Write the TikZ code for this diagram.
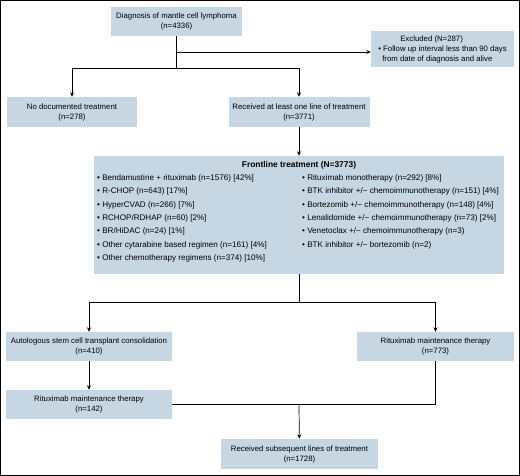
\documentclass[tikz,border=0pt]{standalone}
\usepackage{fontspec}
\setmainfont{Liberation Sans}
\usetikzlibrary{
    arrows.meta,
    positioning,
    calc
}
\definecolor{boxcol}{HTML}{C6D6E3}
\definecolor{framecol}{HTML}{000000}

\begin{document}
\begin{tikzpicture}[
    x=1pt, y=-1pt,
    >=Stealth,
    font=\fontsize{7.8}{10}\selectfont,
    fbox/.style={
        fill=boxcol, inner sep=0pt,
        minimum height=29pt, align=center
    },
    flist/.style={
        anchor=north west, inner sep=0pt, align=left,
        font=\fontsize{8.1}{13.3}\selectfont
    },
    arr/.style={->, >={Stealth[length=4.5pt, width=4pt]}, line width=0.7pt},
    lin/.style={line width=0.7pt},
]

% ── Frame ──
\useasboundingbox (0,0) rectangle (520,476);
\draw[framecol, line width=0.9pt] (0.5,0.5) rectangle (519,475);

% ── Boxes (top to bottom) ──
\node[fbox, minimum width=131pt] (diag) at (176.5,21.5) {
    Diagnosis of mantle cell lymphoma\\(n=4336)
};

\node[fbox, minimum width=143pt, minimum height=36pt, align=left] (excl) at (442.5,49) {
    \hspace*{22pt}Excluded (N=287)\\
    • Follow up interval less than 90 days\\
    \hspace*{4pt}from date of diagnosis and alive
};

\node[fbox, minimum width=130pt, minimum height=30pt] (nodoc) at (72,112) {
    No documented treatment\\(n=278)
};
\node[fbox, minimum width=141pt, minimum height=30pt] (recv) at (299,112) {
    Received at least one line of treatment\\(n=3771)
};

% --- Frontline treatment block ---
\node[fbox, minimum width=410pt, minimum height=118pt] (front) at (299,215) {};
\node[font=\fontsize{8.4}{10}\selectfont\bfseries, anchor=base] (ftitle) at (299,168)
    {Frontline treatment (N=3773)};

\node[flist] (fleft) at (97,174.5) {
    • Bendamustine + rituximab (n=1576) [42\%]\\
    • R-CHOP (n=643) [17\%]\\
    • HyperCVAD (n=266) [7\%]\\
    • RCHOP/RDHAP (n=60) [2\%]\\
    • BR/HiDAC (n=24) [1\%]\\
    • Other cytarabine based regimen (n=161) [4\%]\\
    • Other chemotherapy regimens (n=374) [10\%]
};
\node[flist] (fright) at (302,174.5) {
    • Rituximab monotherapy (n=292) [8\%]\\
    • BTK inhibitor +/− chemoimmunotherapy (n=151) [4\%]\\
    • Bortezomib +/− chemoimmunotherapy (n=148) [4\%]\\
    • Lenalidomide +/− chemoimmunotherapy (n=73) [2\%]\\
    • Venetoclax +/− chemoimmunotherapy (n=3)\\
    • BTK inhibitor +/− bortezomib (n=2)
};

% --- Consolidation / maintenance ---
\node[fbox, minimum width=166pt] (asct) at (89,346.5) {
    Autologous stem cell transplant consolidation\\(n=410)
};
\node[fbox, minimum width=157pt] (ritR) at (435.5,346.5) {
    Rituximab maintenance therapy\\(n=773)
};
\node[fbox, minimum width=166pt] (rit142) at (89,404.5) {
    Rituximab maintenance therapy\\(n=142)
};
\node[fbox, minimum width=157pt, minimum height=30pt] (subs) at (299.5,454) {
    Received subsequent lines of treatment\\(n=1728)
};

% ── Connectors ──
\coordinate (dexcl) at (176.5,52);
\coordinate (dsplit) at (176.5,68);
\draw[lin] (diag) -- (dsplit);
\draw[arr] (dexcl) -- (dexcl -| excl.west);
\draw[arr] (dsplit) -| (nodoc.north);
\draw[arr] (dsplit) -| (recv.north);
\draw[arr] (recv) -- (front);

\coordinate (fsplit) at (299,302);
\draw[lin] (front) -- (fsplit);
\draw[arr] (fsplit) -| (asct.north);
\draw[arr] (fsplit) -| (ritR.north);
\draw[arr] (asct) -- (rit142);

% merge into subsequent lines
\coordinate (mjoin) at (299,404.5);
\draw[lin] (rit142.east) -| (ritR.south);
\draw[arr] (mjoin) -- (subs);

\end{tikzpicture}
\end{document}
